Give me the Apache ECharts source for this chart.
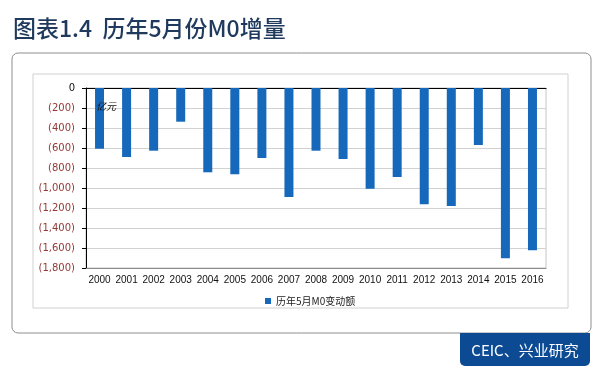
<!DOCTYPE html>
<html>
<head>
<meta charset="utf-8">
<script src="https://cdn.jsdelivr.net/npm/echarts@6/dist/echarts.min.js"></script>
<style>
  html, body { margin: 0; padding: 0; background: #fff; }
  #main { width: 600px; height: 377px; }
</style>
</head>
<body>
<div id="main"></div>
<script>
// 年份
var years = ['2000', '2001', '2002', '2003', '2004', '2005', '2006', '2007', '2008',
             '2009', '2010', '2011', '2012', '2013', '2014', '2015', '2016'];
// 历年5月M0变动额（亿元）
var m0Change = [-607, -690, -627, -337, -843, -862, -700, -1090, -627,
                -710, -1007, -890, -1163, -1180, -570, -1703, -1623];

var yMin = -1800, yMax = 0, yStep = 200;

var myChart = echarts.init(document.getElementById('main'));

// 负数用括号表示，千分位
function fmt(v) {
    if (v === 0) return '0';
    var s = Math.abs(v).toString().replace(/\B(?=(\d{3})+(?!\d))/g, ',');
    return '(' + s + ')';
}

var option = {
    backgroundColor: '#ffffff',
    animation: false,
    title: {
        text: '图表1.4  历年5月份M0增量',
        left: 8,
        top: 12,
        textStyle: {
            fontFamily: 'Noto Sans CJK SC',
            fontSize: 23,
            fontWeight: 500,
            color: '#1f3a5c'
        }
    },
    legend: {
        data: ['历年5月M0变动额'],
        left: 260,
        top: 291,
        icon: 'rect',
        itemWidth: 6,
        itemHeight: 6,
        itemGap: 4,
        textStyle: {
            fontFamily: 'Noto Sans CJK SC',
            fontSize: 10,
            color: '#222'
        }
    },
    grid: {
        left: 86,
        top: 88,
        right: 54,
        bottom: 109,
        show: true,
        borderColor: '#c4c4c4',
        borderWidth: 1
    },
    xAxis: [
        {
            type: 'category',
            data: years,
            position: 'bottom',
            axisLine: { onZero: false, lineStyle: { color: '#8c8c8c', width: 1 } },
            axisTick: { show: false },
            axisLabel: {
                interval: 0,
                margin: 7,
                fontFamily: 'Liberation Sans',
                fontSize: 10,
                color: '#111'
            }
        },
        {
            // 零轴（顶部黑线）
            type: 'category',
            data: years,
            position: 'top',
            axisLine: { onZero: false, lineStyle: { color: '#000', width: 1 } },
            axisTick: { show: false },
            axisLabel: { show: false }
        }
    ],
    yAxis: {
        type: 'value',
        min: yMin,
        max: yMax,
        interval: yStep,
        axisLine: { show: true, lineStyle: { color: '#000', width: 1 } },
        axisTick: { show: true, length: 4, lineStyle: { color: '#000' } },
        splitLine: { lineStyle: { color: '#d2d2d2', width: 1 } },
        axisLabel: {
            margin: 11,
            fontFamily: 'DejaVu Sans',
            fontSize: 10,
            formatter: fmt,
            color: function (v) {
                return Number(v) === 0 ? '#111' : '#953735';
            }
        }
    },
    series: [{
        name: '历年5月M0变动额',
        type: 'bar',
        data: m0Change,
        barWidth: 9,
        itemStyle: { color: '#1668bb' }
    }],
    graphic: [
        // 外框
        {
            type: 'rect',
            shape: { x: 12, y: 53, width: 579, height: 280, r: 6 },
            style: { fill: 'none', stroke: '#8e8e8e', lineWidth: 1 },
            z: 0
        },
        // 图表区边框
        {
            type: 'rect',
            shape: { x: 33, y: 74, width: 535, height: 234 },
            style: { fill: 'none', stroke: '#d0d0d0', lineWidth: 1 },
            z: 0
        },
        // 单位
        {
            type: 'text',
            left: 96,
            top: 101,
            style: {
                text: '亿元',
                font: 'italic 10px "Noto Sans CJK SC"',
                fill: '#111'
            },
            z: 100
        },
        // 来源标签
        {
            type: 'rect',
            shape: { x: 460, y: 333, width: 130, height: 33, r: [0, 0, 5, 5] },
            style: { fill: '#0c4a93' },
            z: 10
        },
        {
            type: 'text',
            x: 525,
            y: 350,
            style: {
                text: 'CEIC、兴业研究',
                font: '15px "Noto Sans CJK SC"',
                fill: '#ffffff',
                align: 'center',
                verticalAlign: 'middle'
            },
            z: 11
        }
    ]
};

myChart.setOption(option);
</script>
</body>
</html>
